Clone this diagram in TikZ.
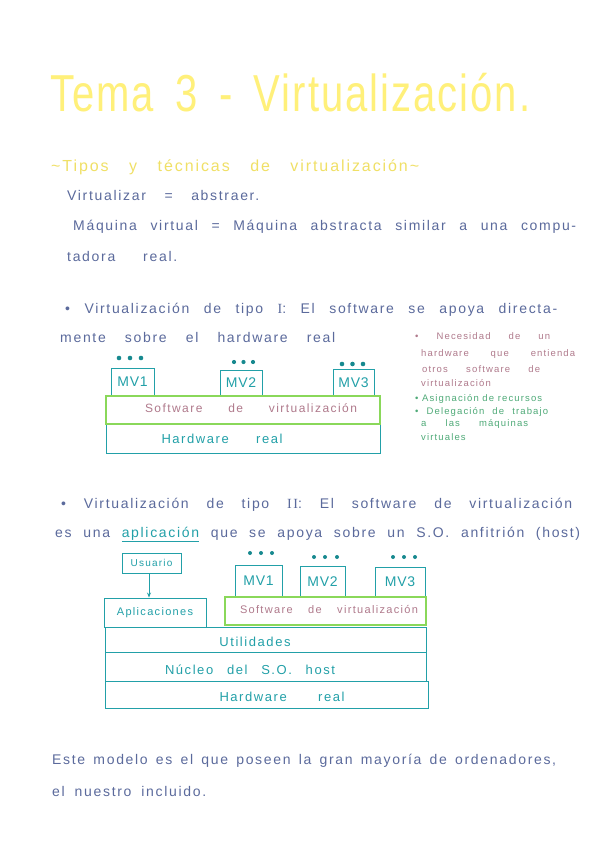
\documentclass[tikz,border=0pt]{standalone}
\usepackage{fontspec}
\setmainfont{Liberation Sans}[LetterSpace=12]
\newfontfamily\lsfont{Liberation Sans}[LetterSpace=5]
\newfontfamily\romfont{Liberation Serif}[LetterSpace=12]
\usepackage{graphicx}
\usetikzlibrary{arrows.meta}
\definecolor{ink}{HTML}{5B6A9C}
\definecolor{ttl}{HTML}{FFF07A}
\definecolor{sub}{HTML}{F0E066}
\definecolor{tealc}{HTML}{22A0A8}
\definecolor{dotc}{HTML}{17898F}
\definecolor{lgreen}{HTML}{8AD85A}
\definecolor{pinkc}{HTML}{B07A8C}
\definecolor{greent}{HTML}{4FAA78}
\newcommand{\hw}[2]{\makebox[#1][s]{#2}}
\begin{document}
\begin{tikzpicture}[x=1pt,y=-1pt,
  txt/.style={inner sep=0pt, anchor=base west, text=ink, font=\fontsize{14}{16}\selectfont},
  note/.style={inner sep=0pt, anchor=base west, font=\fontsize{9.5}{11}\selectfont},
  tbox/.style={draw=tealc, line width=0.9pt, inner sep=0pt},
  gbox/.style={draw=lgreen, line width=1.4pt, inner sep=0pt},
  mvlbl/.style={text=tealc, font=\lsfont\fontsize{14}{16}\selectfont},
  lbl/.style={inner sep=0pt, anchor=base, text=tealc, font=\fontsize{13}{15}\selectfont},
  plbl/.style={inner sep=0pt, anchor=base, text=pinkc, font=\fontsize{11}{13}\selectfont},
  dotfill/.style={fill=dotc}]
\useasboundingbox (0,0) rectangle (600,848);
\fill[white] (0,0) rectangle (600,848);

% Title
\node[inner sep=0pt, anchor=base west, text=ttl] (title) at (50,112)
  {\scalebox{1}[1.3]{\lsfont\fontsize{40}{44}\selectfont\hw{480pt}{Tema 3 - Virtualización.}}};
\node[inner sep=0pt, anchor=base west, text=sub, font=\fontsize{16}{18}\selectfont] (subt) at (51,171)
  {\hw{368pt}{\textasciitilde Tipos y técnicas de virtualización\textasciitilde}};

% Intro text
\node[txt] (l1) at (67,200) {\hw{192pt}{Virtualizar = abstraer.}};
\node[txt] (l2) at (73,230) {\hw{503pt}{Máquina virtual = Máquina abstracta similar a una compu-}};
\node[txt] (l3) at (67,261) {\hw{110pt}{tadora real.}};

% Type I
\node[txt] (t1a) at (65,313) {\hw{492pt}{• Virtualización de tipo {\romfont I}: El software se apoya directa-}};
\node[txt] (t1b) at (60,342) {\hw{275pt}{mente sobre el hardware real}};

% Notes right
\node[note, text=pinkc] (n1) at (415,339) {\hw{135pt}{• Necesidad de un}};
\node[note, text=pinkc] (n2) at (421,356) {\hw{154pt}{hardware que entienda}};
\node[note, text=pinkc] (n3) at (422,372) {\hw{118pt}{otros software de}};
\node[note, text=pinkc] (n4) at (421,386) {virtualización};
\node[note, text=greent] (n5) at (415,401) {\hw{127pt}{• Asignación de recursos}};
\node[note, text=greent] (n6) at (415,414) {\hw{133pt}{• Delegación de trabajo}};
\node[note, text=greent] (n7) at (421,426) {\hw{107pt}{a las máquinas}};
\node[note, text=greent] (n8) at (421,440) {virtuales};

% Diagram I
\node[tbox, minimum width=43pt, minimum height=28pt, mvlbl] (amv1) at (132.5,382) {MV1};
\node[tbox, minimum width=42pt, minimum height=26pt, mvlbl] (amv2) at (241,383) {MV2};
\node[tbox, minimum width=41pt, minimum height=27pt, mvlbl] (amv3) at (353.5,382.5) {MV3};
\foreach \x in {119,130,141} \fill[dotfill] (\x,358) circle (2.3);
\foreach \x in {234,243.5,253} \fill[dotfill] (\x,362) circle (2.1);
\foreach \x in {342,352.5,363} \fill[dotfill] (\x,364) circle (2.3);
\node[tbox, minimum width=274pt, minimum height=29pt] (ahw) at (243,438.5) {};
\node[gbox, minimum width=274pt, minimum height=28pt] (asw) at (243,410) {};
\node[plbl, font=\fontsize{12}{14}\selectfont] (aswt) at (251,412) {\hw{212pt}{Software de virtualización}};
\node[lbl] (ahwt) at (222,443) {\hw{121pt}{Hardware real}};

% Type II
\node[txt] (t2a) at (61,508) {\hw{511pt}{• Virtualización de tipo {\romfont II}: El software de virtualización}};
\node[txt] (t2b) at (55,537) {\hw{525pt}{es una {\color{tealc}\underline{aplicación}} que se apoya sobre un S.O. anfitrión (host)}};

% Diagram II
\node[tbox, minimum width=59pt, minimum height=20pt, text=tealc, font=\fontsize{10}{12}\selectfont] (usu) at (151.5,563) {Usuario};
\node[tbox, minimum width=102pt, minimum height=29pt, text=tealc, font=\fontsize{11}{13}\selectfont] (apl) at (155,612.5) {Aplicaciones};
\coordinate (arx) at (149,0);
\draw[tealc, line width=0.9pt, -{Stealth[length=5pt,width=4pt]}] (usu.south -| arx) -- (apl.north -| arx);
\node[tbox, minimum width=47pt, minimum height=32pt, mvlbl] (bmv1) at (258.5,581) {MV1};
\node[tbox, minimum width=45pt, minimum height=31pt, mvlbl] (bmv2) at (322.5,581.5) {MV2};
\node[tbox, minimum width=50pt, minimum height=30pt, mvlbl] (bmv3) at (400,582) {MV3};
\foreach \x in {250,261,272} \fill[dotfill] (\x,553) circle (2);
\foreach \x in {314,325,337} \fill[dotfill] (\x,557) circle (2);
\foreach \x in {393,404,415} \fill[dotfill] (\x,557) circle (2);
\node[tbox, minimum width=321pt, minimum height=25pt] (util) at (265.5,639.5) {};
\node[tbox, minimum width=321pt, minimum height=29pt] (nuc) at (265.5,666.5) {};
\node[tbox, minimum width=323pt, minimum height=27pt] (bhw) at (266.5,694.5) {};
\node[gbox, minimum width=201pt, minimum height=28pt] (bsw) at (325.5,611) {};
\node[plbl] (bswt) at (329,613) {\hw{178pt}{Software de virtualización}};
\node[lbl] (utilt) at (255,646) {Utilidades};
\node[lbl] (nuct) at (250,674) {\hw{170pt}{Núcleo del S.O. host}};
\node[lbl] (bhwt) at (282,701) {\hw{125pt}{Hardware real}};

% Bottom text
\node[txt] (b1) at (52,764) {\hw{504pt}{Este modelo es el que poseen la gran mayoría de ordenadores,}};
\node[txt] (b2) at (52,796) {\hw{154pt}{el nuestro incluido.}};
\end{tikzpicture}
\end{document}
